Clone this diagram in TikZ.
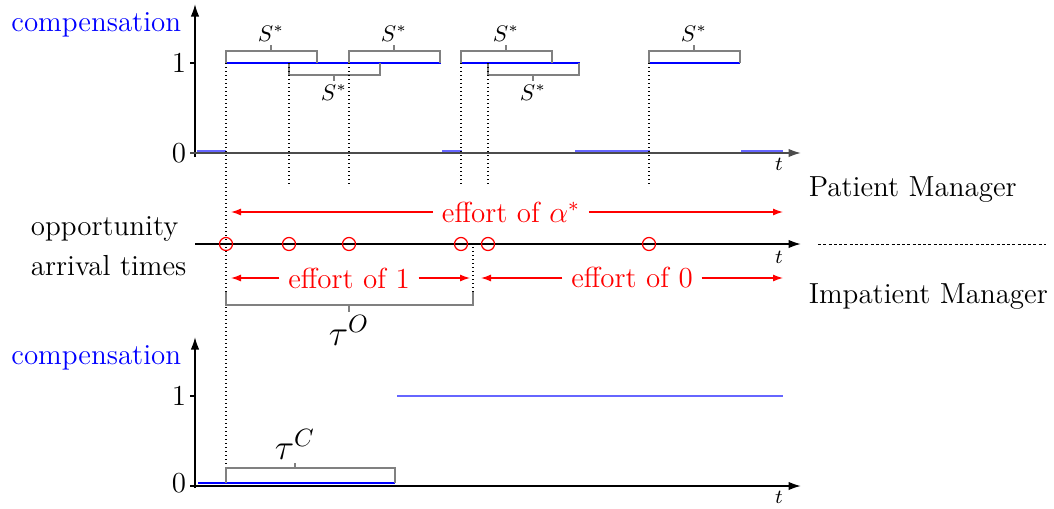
\documentclass[tikz,border=0pt]{standalone}
\usetikzlibrary{arrows.meta}

\begin{document}
\begin{tikzpicture}[x=0.4pt, y=-0.4pt, font=\fontsize{11.6}{14}\selectfont,
  axis/.style={line width=0.7pt, -{Latex[length=5pt,width=3.4pt]}},
  tick/.style={line width=0.5pt},
  payhigh/.style={blue, line width=0.6pt},
  paylow/.style={blue!60, line width=1pt},
  brack/.style={gray, line width=0.45pt},
  guide/.style={line width=0.5pt, dash pattern=on 0.5pt off 1.1pt},
  effort/.style={red, line width=0.5pt, -{Latex[length=4pt,width=2.8pt]}},
  arrival/.style={red, line width=0.5pt},
  lab/.style={font=\small, text=black}]
\useasboundingbox (0,0) rectangle (1054,508);

% patient manager: compensation
\draw[axis] (195,157) -- (195,4);
\draw[axis, black!70] (190,153) -- (801,153);
\node[lab, font=\footnotesize] (t1) at (779,164) {$t$};
\node[blue, anchor=east] (comp1) at (190,25) {compensation};
\node[anchor=east] (one1) at (195,63) {1};
\node[anchor=east] (zero1) at (195,153) {0};
\draw[tick] (190,63) -- (195,63);
\draw[payhigh] (226,63) -- (441,63) (462,63) -- (580,63) (650,63) -- (740,63);
\draw[paylow] (197,151) -- (226,151) (442,151) -- (462,151)
              (575,151) -- (650,151) (741,151) -- (783,151);
\foreach \a in {226,349,461,649}{
  \draw[brack] (\a,63) |- (\a+91,51) -- (\a+91,63);
  \draw[brack] (\a+45,51) -- (\a+45,45) node[lab, above, inner sep=1pt] (up\a) {$S^*$};
}
\foreach \a in {289,488}{
  \draw[brack] (\a,63) |- (\a+91,75) -- (\a+91,63);
  \draw[brack] (\a+45,75) -- (\a+45,81) node[lab, below, inner sep=1pt] (dn\a) {$S^*$};
}
\foreach \a in {289,349,461,488,649} \draw[guide] (\a,63) -- (\a,184);
\draw[guide] (226,63) -- (226,468);

% opportunity arrival times
\draw[axis] (195,244) -- (801,244);
\node[lab, font=\footnotesize] (t2) at (779,257) {$t$};
\foreach \a in {226,289,349,461,488,649} \draw[arrival] (\a,244) circle[radius=2.6pt];
\node[anchor=west, align=left] (arr) at (22,246) {opportunity\\[2pt]arrival times};
\node[anchor=west] (patient) at (800,190) {Patient Manager};
\node[anchor=west] (impatient) at (800,297) {Impatient Manager};
\draw[line width=0.4pt, dash pattern=on 1.2pt off 0.9pt] (818,244) -- (1046,244);

\node[red] (alpha) at (511,212) {effort of $\alpha^*$};
\draw[effort] (alpha.west) -- (231,212);
\draw[effort] (alpha.east) -- (783,212);
\node[red] (eff1) at (349,278) {effort of 1};
\draw[effort] (eff1.west) -- (231,278);
\draw[effort] (eff1.east) -- (470,278);
\node[red] (eff0) at (632,278) {effort of 0};
\draw[effort] (eff0.west) -- (481,278);
\draw[effort] (eff0.east) -- (783,278);

\draw[guide] (473,247) -- (473,305);
\draw[brack] (226,292) |- (473,305) -- (473,292);
\draw[brack] (349,305) -- (349,312) node[below, inner sep=1pt, text=black, font=\Large] (tauO) {$\tau^O$};

% impatient manager: compensation
\draw[axis] (195,488) -- (195,337);
\draw[axis] (190,486) -- (801,486);
\node[lab, font=\footnotesize] (t3) at (779,497) {$t$};
\node[blue, anchor=east] (comp2) at (190,358) {compensation};
\node[anchor=east] (one2) at (195,396) {1};
\node[anchor=east] (zero2) at (195,483) {0};
\draw[tick] (190,396) -- (195,396);
\draw[payhigh] (198,483) -- (395,483);
\draw[paylow] (397,396) -- (783,396);
\draw[brack] (226,483) |- (395,468) -- (395,483);
\draw[brack] (295,468) -- (295,463) node[above, inner sep=1pt, text=black, font=\Large] (tauC) {$\tau^C$};
\end{tikzpicture}
\end{document}
